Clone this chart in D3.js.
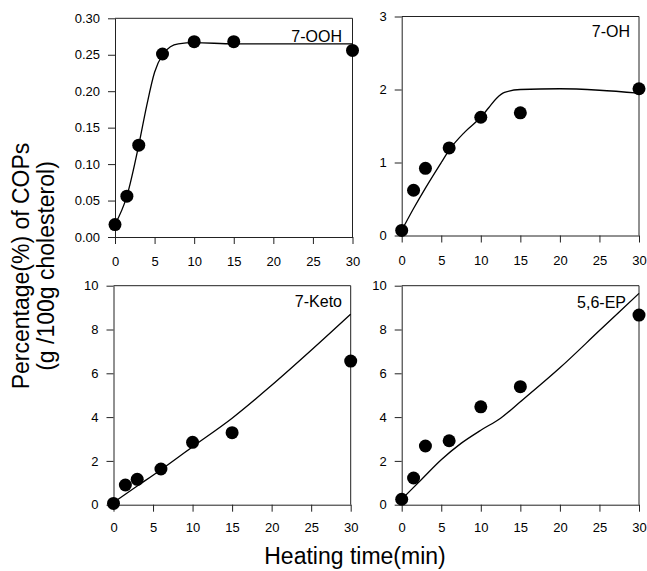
<!DOCTYPE html>
<html>
<head>
<meta charset="utf-8">
<script src="https://cdn.jsdelivr.net/npm/d3@7/dist/d3.min.js"></script>
<style>
  html, body { margin: 0; padding: 0; background: #fff; }
  svg { display: block; font-family: "Liberation Sans", Arial, sans-serif; }
</style>
</head>
<body>
<svg id="chart" width="647" height="571"></svg>
<script>
// Heating times (min) at which samples were measured
const times = [0, 1.5, 3, 6, 10, 15, 30];
const xTicks = [0, 5, 10, 15, 20, 25, 30];

// Measured cholesterol oxidation products (g / 100 g cholesterol)
const oohValues  = [0.017, 0.056, 0.126, 0.251, 0.268, 0.268, 0.256];
const ohValues   = [0.07, 0.62, 0.92, 1.20, 1.62, 1.68, 2.01];
const ketoValues = [0.06, 0.90, 1.16, 1.63, 2.85, 3.29, 6.56];
const epValues   = [0.25, 1.22, 2.68, 2.92, 4.47, 5.39, 8.66];

// Fitted kinetic curves (time, value)
const oohFitT  = [0, 1.5, 3, 4, 5, 6, 7, 8, 10, 15, 30];
const oohFitY  = [0.017, 0.056, 0.126, 0.18, 0.226, 0.250, 0.261, 0.265, 0.2665, 0.265, 0.265];
const ohFitT   = [0, 1.5, 3, 5, 6, 8, 10, 11, 12, 13, 15, 20, 25, 30];
const ohFitY   = [0.07, 0.37, 0.65, 1.0, 1.17, 1.42, 1.62, 1.75, 1.88, 1.96, 2.0, 2.01, 1.99, 1.95];
const ketoFitT = [0, 3, 6, 10, 15, 20, 25, 30];
const ketoFitY = [0.1, 0.85, 1.6, 2.65, 3.95, 5.45, 7.05, 8.7];
const epFitT   = [0, 2.5, 5, 7.5, 10, 12.5, 15, 20, 25, 30];
const epFitY   = [0.25, 1.15, 2.05, 2.8, 3.4, 3.95, 4.7, 6.25, 7.95, 9.65];

const panels = [
  { name: "7-OOH",  vals: oohValues,  fitT: oohFitT,  fitY: oohFitY,
    yMax: 0.30, yTicks: [0, 0.05, 0.10, 0.15, 0.20, 0.25, 0.30], fmt: d3.format(".2f"),
    x0: 115, x1: 352.5, y0: 237, y1: 18.3, lx: 342, ly: 41.5, pad: 13 },
  { name: "7-OH",   vals: ohValues,   fitT: ohFitT,   fitY: ohFitY,
    yMax: 3, yTicks: [0, 1, 2, 3], fmt: d3.format("d"),
    x0: 401.7, x1: 639, y0: 235.5, y1: 16.5, lx: 630, ly: 37, pad: 13 },
  { name: "7-Keto", vals: ketoValues, fitT: ketoFitT, fitY: ketoFitY,
    yMax: 10, yTicks: [0, 2, 4, 6, 8, 10], fmt: d3.format("d"),
    x0: 113.5, x1: 350.7, y0: 504.7, y1: 285.7, lx: 342, ly: 306.5, pad: 11 },
  { name: "5,6-EP", vals: epValues,   fitT: epFitT,   fitY: epFitY,
    yMax: 10, yTicks: [0, 2, 4, 6, 8, 10], fmt: d3.format("d"),
    x0: 401.7, x1: 639, y0: 504.7, y1: 285.7, lx: 626, ly: 307.5, pad: 11 }
];

const svg = d3.select("#chart");
const axisColor = "#222";

panels.forEach(p => {
  const x = d3.scaleLinear().domain([0, 30]).range([p.x0, p.x1]);
  const y = d3.scaleLinear().domain([0, p.yMax]).range([p.y0, p.y1]);
  const g = svg.append("g");

  // frame (top and right edges)
  g.append("path")
    .attr("d", `M${p.x0},${p.y1}H${p.x1}V${p.y0}`)
    .attr("fill", "none").attr("stroke", axisColor).attr("stroke-width", 1);

  const xAxis = g.append("g")
    .attr("transform", `translate(0,${p.y0})`)
    .call(d3.axisBottom(x).tickValues(xTicks).tickSize(7).tickPadding(p.pad).tickSizeOuter(0));
  const yAxis = g.append("g")
    .attr("transform", `translate(${p.x0},0)`)
    .call(d3.axisLeft(y).tickValues(p.yTicks).tickFormat(p.fmt).tickSize(7).tickPadding(8).tickSizeOuter(0));
  [xAxis, yAxis].forEach(a => {
    a.selectAll("path, line").attr("stroke", axisColor);
    a.selectAll("text").attr("fill", "#000").style("font-size", "13px")
      .style("font-family", "'Liberation Sans', Arial, sans-serif");
  });

  // fitted curve
  const fit = p.fitT.map((t, i) => [t, p.fitY[i]]);
  g.append("path")
    .datum(fit)
    .attr("fill", "none").attr("stroke", "#000").attr("stroke-width", 1.3)
    .attr("d", d3.line().x(d => x(d[0])).y(d => y(d[1])).curve(d3.curveMonotoneX));

  // measured points
  g.selectAll("circle")
    .data(times.map((t, i) => [t, p.vals[i]]))
    .join("circle")
    .attr("cx", d => x(d[0])).attr("cy", d => y(d[1]))
    .attr("r", 6.5).attr("fill", "#000");

  // compound label
  g.append("text")
    .attr("x", p.lx).attr("y", p.ly)
    .attr("text-anchor", "end")
    .style("font-size", "16px")
    .text(p.name);
});

// axis titles
const yTitle = svg.append("text")
  .attr("transform", "translate(0,266) rotate(-90)")
  .attr("text-anchor", "middle")
  .style("font-size", "23px");
yTitle.append("tspan").attr("x", 0).attr("y", 29).text("Percentage(%) of COPs");
yTitle.append("tspan").attr("x", 0).attr("y", 54).text("(g /100g cholesterol)");

svg.append("text")
  .attr("x", 355).attr("y", 564)
  .attr("text-anchor", "middle")
  .style("font-size", "23px")
  .text("Heating time(min)");
</script>
</body>
</html>
